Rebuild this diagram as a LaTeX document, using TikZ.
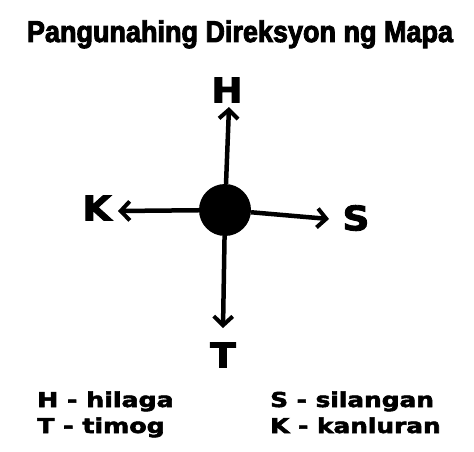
\documentclass[tikz,border=0pt]{standalone}
\usepackage{fontspec}
\setmainfont{DejaVu Sans}[BoldFeatures={FakeBold=2.5}]
\newfontfamily\titlefont{Liberation Sans}[BoldFeatures={FakeBold=3.2}]
\usetikzlibrary{arrows.meta}
\tikzset{
  arr/.style={line width=4.5pt, -{Straight Barb[length=9pt,width=19pt,line width=4pt]}},
  dirlabel/.style={font=\fontsize{34}{34}\selectfont\bfseries, inner sep=0pt},
  legend/.style={font=\fontsize{20.5}{20.5}\selectfont\bfseries, inner sep=0pt, anchor=base west},
}
\begin{document}
\begin{tikzpicture}[x=1pt,y=-1pt]
\useasboundingbox (0,0) rectangle (474,452);
\node[inner sep=0pt, font=\titlefont\fontsize{30}{30}\selectfont\bfseries, anchor=base] (title) at (240,42) {\scalebox{0.9}[1]{Pangunahing Direksyon ng Mapa}};
\node[circle, fill=black, minimum size=52pt, inner sep=0pt] (c) at (225,210) {};
\coordinate (hTip) at (229,107);
\coordinate (kTip) at (118,211);
\coordinate (sTip) at (329,219);
\coordinate (tTip) at (223,328);
\node[dirlabel] (H) at (227,90) {\scalebox{1.1}[1]{H}};
\node[dirlabel] (K) at (97,208) {\scalebox{1.1}[1]{K}};
\node[dirlabel] (S) at (356,218) {\scalebox{1.1}[1]{S}};
\node[dirlabel] (T) at (223,355) {\scalebox{1.1}[1]{T}};
\draw[arr] (c) -- (hTip);
\draw[arr] (c) -- (kTip);
\draw[arr] (c) -- (sTip);
\draw[arr] (c) -- (tTip);
\node[legend] (l1) at (37,407) {\scalebox{1.23}[1]{H - hilaga}};
\node[legend] (l2) at (37,433) {\scalebox{1.23}[1]{T - timog}};
\node[legend] (l3) at (270,407) {\scalebox{1.21}[1]{S - silangan}};
\node[legend] (l4) at (270,433) {\scalebox{1.21}[1]{K - kanluran}};
\end{tikzpicture}
\end{document}
